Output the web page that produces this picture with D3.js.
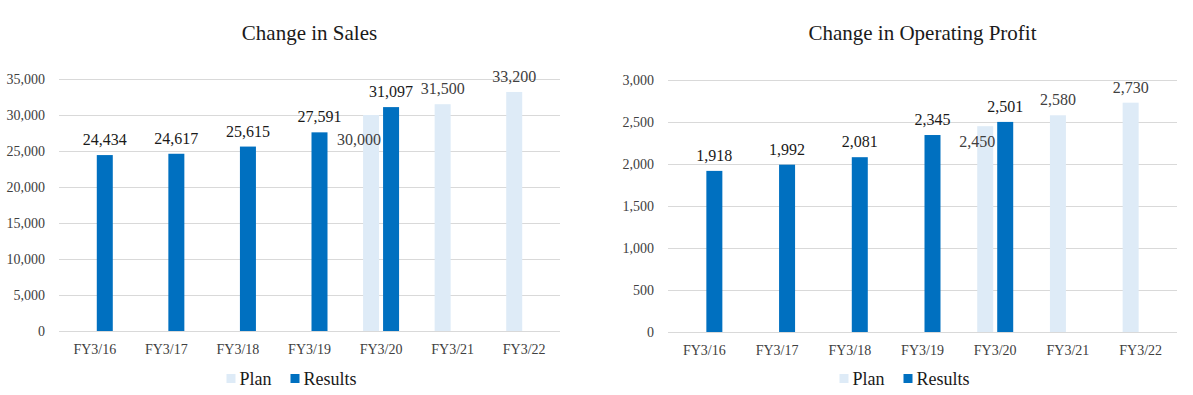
<html>
<head>
  <meta charset="utf-8" />
  <script src="https://cdnjs.cloudflare.com/ajax/libs/d3/7.8.5/d3.min.js"></script>
  <style>
    body { margin: 0; background: #fff; }
    path.domain { stroke: none; }
    .grid .tick line { stroke: #d9d9d9; }
  </style>
</head>
<body>
  <svg></svg>
  <script>
    var categories    = ["FY3/16", "FY3/17", "FY3/18", "FY3/19", "FY3/20", "FY3/21", "FY3/22"]
    var salesPlan     = [null, null, null, null, 30000, 31500, 33200]
    var salesResults  = [24434, 24617, 25615, 27591, 31097, null, null]
    var salesTicks    = [0, 5000, 10000, 15000, 20000, 25000, 30000, 35000]
    var profitPlan    = [null, null, null, null, 2450, 2580, 2730]
    var profitResults = [1918, 1992, 2081, 2345, 2501, null, null]
    var profitTicks   = [0, 500, 1000, 1500, 2000, 2500, 3000]
    var seriesNames   = ["Plan", "Results"]

    var serif = "'Liberation Serif', 'Times New Roman', serif"
    var colors = { Plan: "#deebf7", Results: "#0070c0" }
    var labelColors = { Plan: "#404040", Results: "#1a1a1a" }

    var svg = d3.select("svg").attr("width", 1193).attr("height", 395)
                .style("font-family", serif)
    var fmt = d3.format(",")

    function drawChart(opts) {
      var g = svg.append("g")
      var x = d3.scaleBand().domain(categories).range([opts.left, opts.right])
      var inner = d3.scaleBand().domain(seriesNames).range([-18, 18]).paddingInner(0.2)
      var y = d3.scaleLinear().domain([0, d3.max(opts.ticks)]).range([opts.bottom, opts.top])

      var ya = g.append("g").attr("class", "grid")
        .attr("transform", `translate(${opts.left},0)`)
        .call(d3.axisLeft(y).tickValues(opts.ticks).tickFormat(fmt)
          .tickSize(-(opts.right - opts.left)).tickPadding(14))
      ya.attr("font-family", null).attr("font-size", null)
      ya.selectAll("text").style("font-family", serif).style("font-size", "14px").style("fill", "#404040")

      var xa = g.append("g")
        .attr("transform", `translate(0,${opts.bottom})`)
        .call(d3.axisBottom(x).tickSize(0).tickPadding(13))
      xa.attr("font-family", null).attr("font-size", null)
      xa.selectAll("text").style("font-family", serif).style("font-size", "14px").style("fill", "#404040")

      var rows = []
      categories.forEach((c, i) => {
        var both = opts.plan[i] != null && opts.results[i] != null
        if (opts.plan[i] != null) rows.push({ cat: c, s: "Plan", v: opts.plan[i], both: both })
        if (opts.results[i] != null) rows.push({ cat: c, s: "Results", v: opts.results[i], both: both })
      })

      g.selectAll("rect.bar").data(rows).enter().append("rect")
        .attr("class", "bar")
        .attr("x", d => x(d.cat) + x.bandwidth() / 2 + inner(d.s))
        .attr("width", inner.bandwidth())
        .attr("y", d => y(d.v))
        .attr("height", d => opts.bottom - y(d.v))
        .style("fill", d => colors[d.s])

      g.selectAll("text.lbl").data(rows).enter().append("text")
        .attr("class", "lbl")
        .attr("x", d => {
          var bx = x(d.cat) + x.bandwidth() / 2 + inner(d.s)
          return (d.both && d.s == "Plan") ? bx + inner.bandwidth() + 2 : bx + inner.bandwidth() / 2
        })
        .attr("y", d => (d.both && d.s == "Plan") ? y(d.v) + opts.planDrop : y(d.v) - 10)
        .attr("text-anchor", d => (d.both && d.s == "Plan") ? "end" : "middle")
        .style("font-family", serif)
        .style("font-size", "16px")
        .style("fill", d => labelColors[d.s])
        .text(d => fmt(d.v))

      var cx = (opts.left + opts.right) / 2
      g.append("text")
        .attr("x", cx).attr("y", 40)
        .attr("text-anchor", "middle")
        .style("font-family", serif)
        .style("font-size", "21px").style("fill", "#1a1a1a")
        .text(opts.title)

      var leg = g.append("g")
      var off = 0
      seriesNames.forEach(s => {
        leg.append("rect").attr("x", off).attr("y", 374).attr("width", 9).attr("height", 9)
          .style("fill", colors[s])
        var t = leg.append("text").attr("x", off + 13).attr("y", 385)
          .style("font-family", serif)
          .style("font-size", "18px").style("fill", "#1a1a1a").text(s)
        off += 13 + t.node().getComputedTextLength() + 19
      })
      var legW = off - 19
      leg.attr("transform", `translate(${cx - 18 - legW / 2},0)`)
    }

    drawChart({ title: "Change in Sales", plan: salesPlan, results: salesResults, ticks: salesTicks,
                left: 59, right: 560, top: 79, bottom: 331, planDrop: 30 })
    drawChart({ title: "Change in Operating Profit", plan: profitPlan, results: profitResults, ticks: profitTicks,
                left: 668, right: 1177, top: 80, bottom: 332, planDrop: 21 })
  </script>
</body>
</html>
